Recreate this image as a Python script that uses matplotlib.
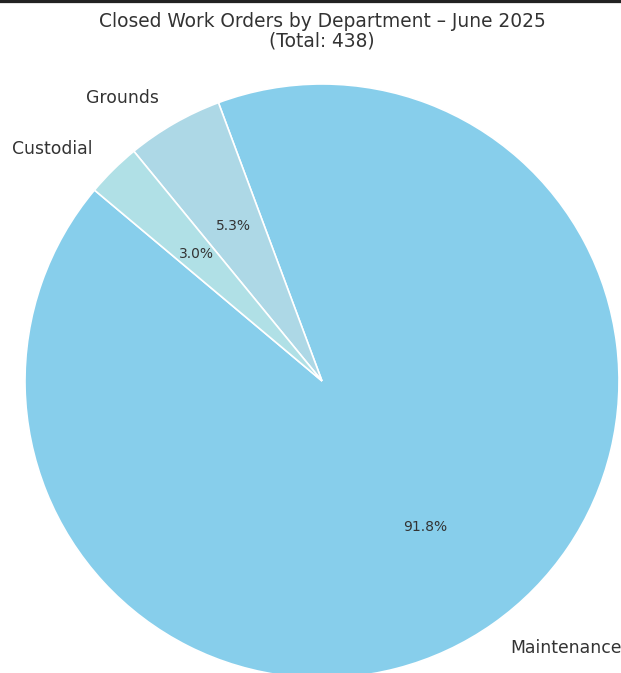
import matplotlib
matplotlib.use("Agg")
import matplotlib.pyplot as plt
from matplotlib.lines import Line2D

departments = ["Maintenance", "Grounds", "Custodial"]
closed_orders = [402, 23, 13]
colors = ["#87CEEB", "#ADD8E6", "#B0E0E6"]
total = sum(closed_orders)

W, H = 621, 673
fig = plt.figure(figsize=(W / 100, H / 100), dpi=100)

cx, cy, r = 322, 381, 297
ax = fig.add_axes([(cx - r) / W, (H - cy - r) / H, 2 * r / W, 2 * r / H])
wedges, texts, autotexts = ax.pie(
    closed_orders,
    labels=departments,
    colors=colors,
    autopct="%1.1f%%",
    startangle=140,
    wedgeprops={"edgecolor": "white", "linewidth": 1.2},
    textprops={"color": "#333333"},
)
for t in texts:
    t.set_fontsize(12.4)
for t in autotexts:
    t.set_fontsize(10)
ax.set_xlim(-1, 1)
ax.set_ylim(-1, 1)
ax.set_aspect("equal")
ax.axis("off")

fig.text(cx / W, 1 - 31 / H,
         f"Closed Work Orders by Department \u2013 June 2025\n(Total: {total})",
         ha="center", va="center", fontsize=13.4, color="#333333",
         linespacing=1.05)

fig.add_artist(Line2D([0, 1], [1, 1], transform=fig.transFigure,
                      color="#222222", linewidth=4.5))

fig.savefig("out.png", dpi=100)
